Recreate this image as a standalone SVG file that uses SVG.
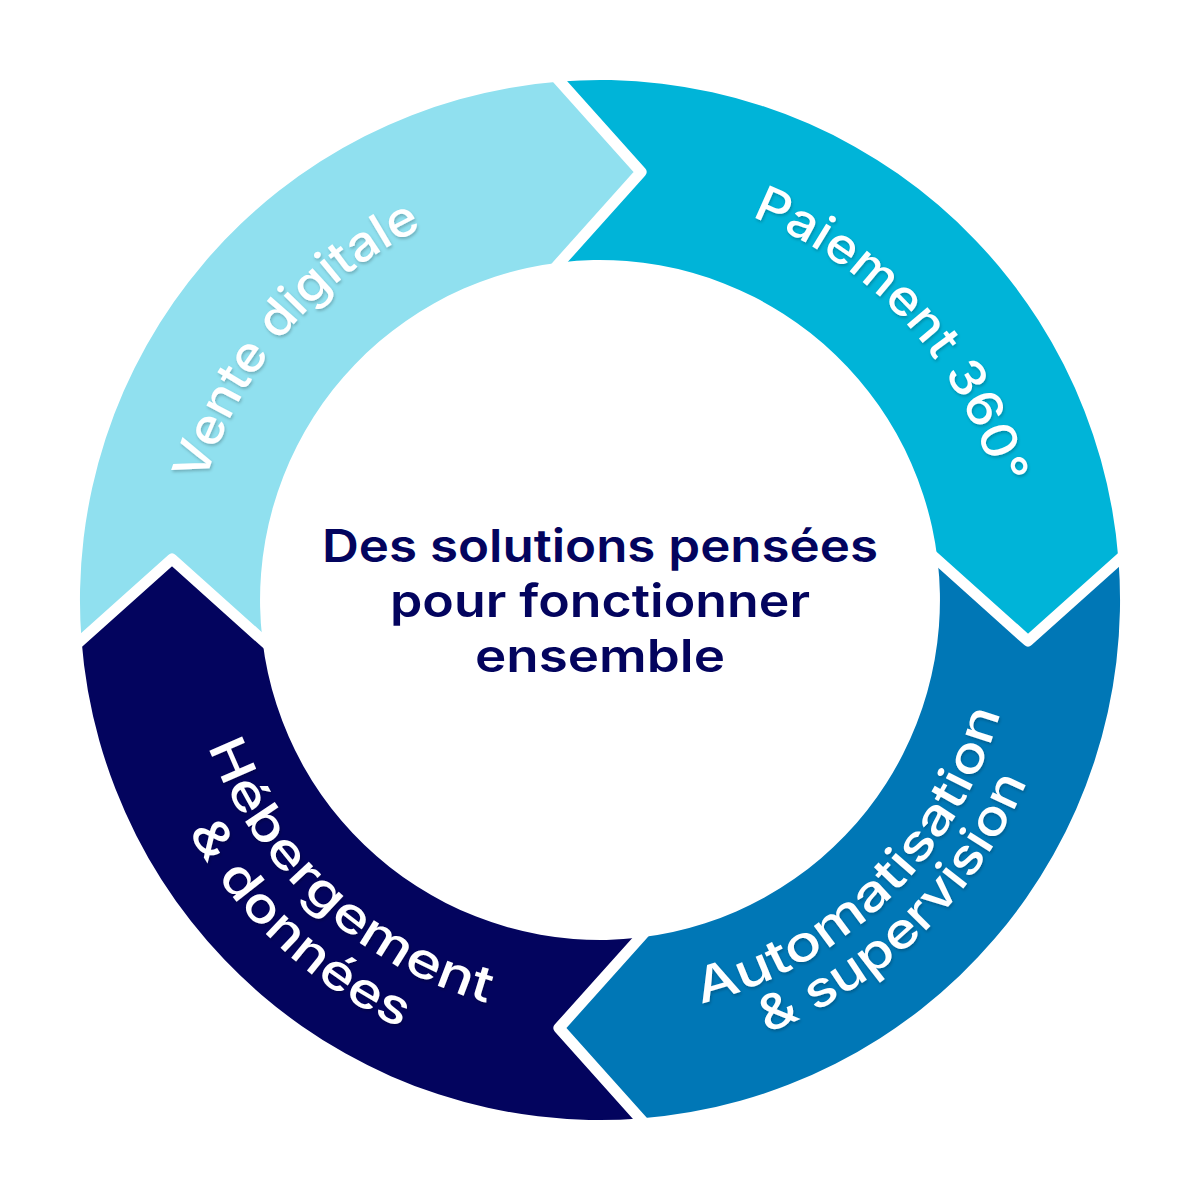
<svg xmlns="http://www.w3.org/2000/svg" width="1200" height="1200" viewBox="0 0 1200 1200">
  <defs>
    <filter id="shadow" x="-10%" y="-10%" width="120%" height="120%">
      <feDropShadow dx="1" dy="2" stdDeviation="1.5" flood-color="#000000" flood-opacity="0.22"/>
    </filter>
    <path id="arcVente" d="M306.1,888.8 A412,412 0 0 1 839.2,264.6"/>
    <path id="arcPaiement" d="M350.6,272 A412,412 0 0 1 902.5,879.7"/>
    <path id="arcAuto1" d="M328.2,914.9 A416,416 0 0 0 922.4,337.1"/>
    <path id="arcAuto2" d="M295.6,950.2 A464,464 0 0 0 960.6,308"/>
    <path id="arcHeb1" d="M268.8,345 A418,418 0 0 0 881.9,908.7"/>
    <path id="arcHeb2" d="M227,310.7 A472,472 0 0 0 917,949.7"/>
  </defs>
  <style>
    .label { font-family: "Inter", "Lato", "Liberation Sans", sans-serif; font-size: 49px; font-weight: 500; fill: #ffffff; }
    .center { font-family: "Inter", "Lato", "Liberation Sans", sans-serif; font-size: 45px; font-weight: 600; fill: #03045E; text-anchor: middle; }
    .sep { fill: none; stroke: #ffffff; stroke-width: 11; stroke-linejoin: round; stroke-linecap: butt; }
  </style>
  <rect width="1200" height="1200" fill="#ffffff"/>

  <g id="node-vente">
    <path d="M81.5,640 A520,520 0 0 1 560,81.5 L641,172 L560,262.4 A340,340 0 0 0 262.4,640 L172,559 Z" fill="#90E0EF"/>
  </g>
  <g id="node-paiement">
    <path d="M560,81.5 A520,520 0 0 1 1118.5,560 L1028,641 L937.6,560 A340,340 0 0 0 560,262.4 L641,172 Z" fill="#00B4D8"/>
  </g>
  <g id="node-automatisation">
    <path d="M1118.5,560 A520,520 0 0 1 640,1118.5 L559,1028 L640,937.6 A340,340 0 0 0 937.6,560 L1028,641 Z" fill="#0077B6"/>
  </g>
  <g id="node-hebergement">
    <path d="M640,1118.5 A520,520 0 0 1 81.5,640 L172,559 L262.4,640 A340,340 0 0 0 640,937.6 L559,1028 Z" fill="#03045E"/>
  </g>

  <g id="connectors">
    <polyline class="sep" points="552,72.5 560,81.5 641,172 560,262.4 552,271.4"/>
    <polyline class="sep" points="1127.5,552 1118.5,560 1028,641 937.6,560 928.6,552"/>
    <polyline class="sep" points="648,1127.5 640,1118.5 559,1028 640,937.6 648,928.6"/>
    <polyline class="sep" points="72.5,648 81.5,640 172,559 262.4,640 271.4,648"/>
  </g>

  <g id="labels" filter="url(#shadow)">
    <text class="label"><textPath href="#arcVente" startOffset="50%" text-anchor="middle" textLength="345" lengthAdjust="spacingAndGlyphs">Vente digitale</textPath></text>
    <text class="label"><textPath href="#arcPaiement" startOffset="50%" text-anchor="middle" textLength="377" lengthAdjust="spacingAndGlyphs">Paiement 360°</textPath></text>
    <text class="label"><textPath href="#arcAuto1" startOffset="50%" text-anchor="middle" textLength="438" lengthAdjust="spacingAndGlyphs">Automatisation</textPath></text>
    <text class="label"><textPath href="#arcAuto2" startOffset="50%" text-anchor="middle" textLength="372" lengthAdjust="spacingAndGlyphs">&amp; supervision</textPath></text>
    <text class="label"><textPath href="#arcHeb1" startOffset="50%" text-anchor="middle" textLength="394" lengthAdjust="spacingAndGlyphs">Hébergement</textPath></text>
    <text class="label"><textPath href="#arcHeb2" startOffset="50%" text-anchor="middle" textLength="294" lengthAdjust="spacingAndGlyphs">&amp; données</textPath></text>
  </g>

  <g id="node-center">
    <text class="center" x="600" y="562" textLength="556" lengthAdjust="spacingAndGlyphs">Des solutions pensées</text>
    <text class="center" x="600" y="617" textLength="420" lengthAdjust="spacingAndGlyphs">pour fonctionner</text>
    <text class="center" x="600" y="672" textLength="250" lengthAdjust="spacingAndGlyphs">ensemble</text>
  </g>
</svg>
